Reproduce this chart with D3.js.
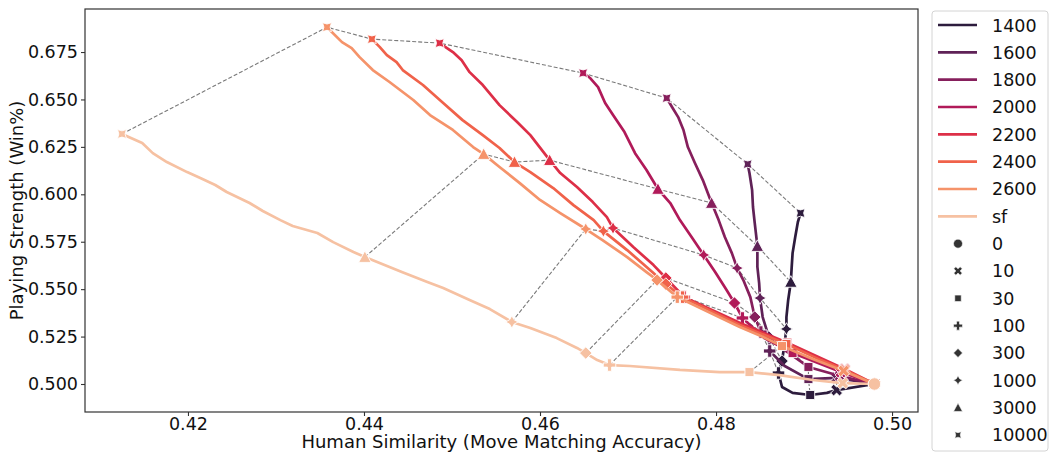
<!DOCTYPE html>
<html>
<head>
<meta charset="utf-8">
<script src="https://cdn.jsdelivr.net/npm/d3@7"></script>
<style>
  body { margin: 0; background: #fff; overflow: hidden; }
  svg { display: block; }
  text { font-family: "DejaVu Sans", sans-serif; }
</style>
</head>
<body>
<div id="chart"></div>
<script>
// ratings (hue) and their colours
const ratings = ["1400", "1600", "1800", "2000", "2200", "2400", "2600", "sf"];
const colors = ["#2d1c3d", "#5f2257", "#861f5c", "#b11a59", "#dd2f47", "#f0624a", "#f5936a", "#f6c1a2"];

// node budgets (style) and their marker shapes
const nodeLevels = [0, 10, 30, 100, 300, 1000, 3000, 10000];
const nodeShapes = ["circle", "xfill", "square", "plus", "diamond", "star", "triangle", "starx"];

const xTicks = [0.42, 0.44, 0.46, 0.48, 0.50];
const yTicks = [0.500, 0.525, 0.550, 0.575, 0.600, 0.625, 0.650, 0.675];

// [similarity, win%, node budget when a marker sits there]
const s1400 = [[0.4896,0.5901,10000],[0.4893,0.5854],[0.4890,0.5775],[0.4887,0.5690],[0.4886,0.5617],
  [0.4885,0.5538,3000],[0.4882,0.5443],[0.4880,0.5353],[0.4880,0.5290,1000],[0.4878,0.5216],
  [0.4875,0.5121,300],[0.4871,0.5058,100],[0.4875,0.4984],[0.4887,0.4953],[0.4907,0.4942,30],
  [0.4926,0.4953],[0.4937,0.4968,10],[0.4980,0.5000,0]];
const s1600 = [[0.4836,0.6159,10000],[0.4838,0.6112],[0.4841,0.6022],[0.4842,0.5933],[0.4844,0.5848],
  [0.4847,0.5727,3000],[0.4847,0.5617],[0.4849,0.5532],[0.4850,0.5453,1000],[0.4853,0.5353],
  [0.4860,0.5248,300],[0.4861,0.5174,100],[0.4878,0.5095],[0.4905,0.5026,30],[0.4937,0.5032,10],
  [0.4980,0.5000,0]];
const s1800 = [[0.4744,0.6507,10000],[0.4750,0.6460],[0.4757,0.6407],[0.4763,0.6339],[0.4768,0.6249],
  [0.4776,0.6165],[0.4785,0.6075],[0.4795,0.5954,3000],[0.4803,0.5864],[0.4810,0.5775],[0.4818,0.5690],
  [0.4824,0.5611,1000],[0.4831,0.5548],[0.4839,0.5458],[0.4844,0.5353,300],[0.4851,0.5274,100],
  [0.4878,0.5179],[0.4905,0.5090,30],[0.4941,0.5042,10],[0.4980,0.5000,0]];
const s2000 = [[0.4649,0.6639,10000],[0.4657,0.6613],[0.4666,0.6565],[0.4674,0.6481],[0.4683,0.6418],
  [0.4696,0.6328],[0.4708,0.6217],[0.4721,0.6128],[0.4734,0.6028,3000],[0.4748,0.5954],[0.4759,0.5864],
  [0.4773,0.5770],[0.4786,0.5680,1000],[0.4799,0.5590],[0.4812,0.5495],[0.4821,0.5427,300],
  [0.4830,0.5348,100],[0.4855,0.5242],[0.4887,0.5163,30],[0.4942,0.5063,10],[0.4980,0.5000,0]];
const s2200 = [[0.4486,0.6797,10000],[0.4501,0.6750],[0.4511,0.6707],[0.4520,0.6644],[0.4535,0.6576],
  [0.4554,0.6470],[0.4574,0.6381],[0.4589,0.6312],[0.4611,0.6180,3000],[0.4623,0.6112],[0.4642,0.6038],
  [0.4660,0.5959],[0.4676,0.5880],[0.4683,0.5822,1000],[0.4706,0.5722],[0.4729,0.5627],
  [0.4743,0.5559,300],[0.4764,0.5458,100],[0.4828,0.5320],[0.4881,0.5218,30],[0.4946,0.5079,10],
  [0.4980,0.5000,0]];
const s2400 = [[0.4409,0.6818,10000],[0.4418,0.6776],[0.4426,0.6734],[0.4437,0.6697],[0.4444,0.6655],
  [0.4467,0.6576],[0.4490,0.6481],[0.4512,0.6391],[0.4535,0.6312],[0.4554,0.6244],[0.4571,0.6170,3000],
  [0.4589,0.6117],[0.4615,0.6033],[0.4638,0.5943],[0.4661,0.5864],[0.4672,0.5806,1000],[0.4699,0.5706],
  [0.4725,0.5601],[0.4743,0.5527,300],[0.4762,0.5458,100],[0.4827,0.5311],[0.4880,0.5211,30],
  [0.4919,0.5126],[0.4946,0.5074,10],[0.4980,0.5000,0]];
const s2600 = [[0.4358,0.6881,10000],[0.4375,0.6802],[0.4386,0.6771],[0.4395,0.6723],[0.4410,0.6655],
  [0.4429,0.6592],[0.4456,0.6497],[0.4475,0.6418],[0.4501,0.6339],[0.4524,0.6249],[0.4536,0.6212,3000],
  [0.4554,0.6144],[0.4577,0.6059],[0.4600,0.5970],[0.4623,0.5901],[0.4652,0.5817,1000],[0.4671,0.5759],
  [0.4699,0.5669],[0.4721,0.5590],[0.4733,0.5548,300],[0.4756,0.5458,100],[0.4827,0.5300],
  [0.4851,0.5253],[0.4875,0.5200,30],[0.4907,0.5137],[0.4945,0.5069,10],[0.4980,0.5000,0]];
const sSf = [[0.4125,0.6318,10000],[0.4148,0.6270],[0.4160,0.6217],[0.4176,0.6170],[0.4199,0.6117],
  [0.4214,0.6086],[0.4231,0.6049],[0.4244,0.6012],[0.4270,0.5954],[0.4285,0.5912],[0.4305,0.5864],
  [0.4319,0.5833],[0.4347,0.5796],[0.4365,0.5748],[0.4388,0.5696],[0.4401,0.5669,3000],[0.4443,0.5590],
  [0.4472,0.5538],[0.4490,0.5506],[0.4520,0.5443],[0.4543,0.5395],[0.4568,0.5327,1000],[0.4589,0.5295],
  [0.4619,0.5242],[0.4642,0.5190],[0.4652,0.5163,300],[0.4665,0.5126],[0.4679,0.5100,100],
  [0.4702,0.5095],[0.4759,0.5074],[0.4804,0.5063],[0.4838,0.5063,30],[0.4872,0.5047],[0.4910,0.5021],
  [0.4944,0.5005,10],[0.4980,0.5000,0]];

const seriesData = [s1400, s1600, s1800, s2000, s2200, s2400, s2600, sSf];

const width = 1052, height = 454;
const margin = { left: 85, right: 134, top: 9, bottom: 42 };
const innerWidth = width - margin.left - margin.right,
      innerHeight = height - margin.top - margin.bottom;

const xScale = d3.scaleLinear().domain([0.4083, 0.50295]).range([0, innerWidth]);
const yScale = d3.scaleLinear().domain([0.48524, 0.69768]).range([innerHeight, 0]);

// marker paths, roughly matching matplotlib's filled markers (ms = full size in px)
function poly(pts) {
    return "M" + pts.map(p => p[0].toFixed(2) + "," + p[1].toFixed(2)).join("L") + "Z";
}
function rotate(pts, deg) {
    const a = deg * Math.PI / 180, c = Math.cos(a), s = Math.sin(a);
    return pts.map(p => [p[0] * c - p[1] * s, p[0] * s + p[1] * c]);
}
function starPts(r) {
    const pts = [];
    for (let i = 0; i < 8; i++) {
        const a = -Math.PI / 2 + i * Math.PI / 4;
        const rr = i % 2 === 0 ? r : r * 0.5;
        pts.push([rr * Math.cos(a), rr * Math.sin(a)]);
    }
    return pts;
}
function plusPts(r) {
    const t = r / 3;
    return [[-t,-r],[t,-r],[t,-t],[r,-t],[r,t],[t,t],[t,r],[-t,r],[-t,t],[-r,t],[-r,-t],[-t,-t]];
}
function markerPath(shape, ms) {
    const r = ms / 2;
    switch (shape) {
        case "circle": return `M${r},0A${r},${r} 0 1,1 ${-r},0A${r},${r} 0 1,1 ${r},0Z`;
        case "square": { const h = r * 0.72; return poly([[-h,-h],[h,-h],[h,h],[-h,h]]); }
        case "diamond": return poly([[0,-r],[r,0],[0,r],[-r,0]]);
        case "triangle": return poly([[0,-r],[r,r*0.85],[-r,r*0.85]]);
        case "plus": return poly(plusPts(r));
        case "xfill": return poly(rotate(plusPts(r), 45));
        case "star": return poly(starPts(r));
        case "starx": return poly(rotate(starPts(r), 45));
    }
}

const svg = d3.select("#chart").append("svg")
    .attr("width", width)
    .attr("height", height);

const g = svg.append("g")
    .attr("transform", "translate(" + margin.left + "," + margin.top + ")");

// dashed connectors between equal node budgets, sf -> 1400
const dashed = g.append("g");
nodeLevels.slice(1).forEach(function(n) {
    const pts = [];
    for (let i = seriesData.length - 1; i >= 0; i--) {
        const p = seriesData[i].find(d => d[2] === n);
        if (p) pts.push(p);
    }
    dashed.append("path")
        .attr("d", d3.line().x(d => xScale(d[0])).y(d => yScale(d[1]))(pts))
        .attr("fill", "none")
        .attr("stroke", "#7a7a7a")
        .attr("stroke-width", 1.1)
        .attr("stroke-dasharray", "4,2");
});

const line = d3.line()
    .x(d => xScale(d[0]))
    .y(d => yScale(d[1]));

seriesData.forEach(function(data, i) {
    const sg = g.append("g").attr("class", "series");
    sg.append("path")
        .attr("d", line(data))
        .attr("fill", "none")
        .attr("stroke", colors[i])
        .attr("stroke-width", 2.7)
        .attr("stroke-linejoin", "round")
        .attr("stroke-linecap", "round");

    sg.selectAll(".mk")
        .data(data.filter(d => d[2] !== undefined))
        .enter().append("path")
        .attr("class", "mk")
        .attr("transform", d => "translate(" + xScale(d[0]) + "," + yScale(d[1]) + ")")
        .attr("d", d => markerPath(nodeShapes[nodeLevels.indexOf(d[2])], 12.5))
        .attr("fill", colors[i])
        .attr("stroke", "#fff")
        .attr("stroke-width", 0.9);
});

// axes
const xAxis = g.append("g")
    .attr("transform", "translate(0," + innerHeight + ")")
    .call(d3.axisBottom(xScale).tickValues(xTicks).tickFormat(d3.format(".2f")).tickSize(4).tickPadding(2));
const yAxis = g.append("g")
    .call(d3.axisLeft(yScale).tickValues(yTicks).tickFormat(d3.format(".3f")).tickSize(4).tickPadding(3));

[xAxis, yAxis].forEach(function(ax) {
    ax.select(".domain").remove();
    ax.selectAll(".tick line").attr("stroke", "#333").attr("stroke-width", 1.1);
    ax.selectAll(".tick text")
        .attr("fill", "#111")
        .style("font-size", "17.5px")
        .style("font-family", "'DejaVu Sans', sans-serif");
});

g.append("rect")
    .attr("width", innerWidth)
    .attr("height", innerHeight)
    .attr("fill", "none")
    .attr("stroke", "#333")
    .attr("stroke-width", 1.2);

svg.append("text")
    .attr("x", margin.left + innerWidth / 2)
    .attr("y", 448)
    .attr("text-anchor", "middle")
    .attr("fill", "#111")
    .style("font-size", "18px")
    .text("Human Similarity (Move Matching Accuracy)");

svg.append("text")
    .attr("transform", "translate(23," + (margin.top + innerHeight / 2) + ") rotate(-90)")
    .attr("text-anchor", "middle")
    .attr("fill", "#111")
    .style("font-size", "18px")
    .text("Playing Strength (Win%)");

// legend
const legend = svg.append("g").attr("transform", "translate(932,11)");
legend.append("rect")
    .attr("width", 116)
    .attr("height", 440)
    .attr("rx", 3)
    .attr("fill", "#fff")
    .attr("stroke", "#d4d4d4")
    .attr("stroke-width", 1);

const rowH = 27.33;
ratings.forEach(function(d, i) {
    const row = legend.append("g").attr("transform", "translate(0," + (14 + i * rowH) + ")");
    row.append("line")
        .attr("x1", 6).attr("x2", 45)
        .attr("stroke", colors[i])
        .attr("stroke-width", 2.7);
    row.append("text")
        .attr("x", 60).attr("y", 6.5)
        .attr("fill", "#111")
        .style("font-size", "17.5px")
        .text(d);
});
nodeLevels.forEach(function(d, i) {
    const row = legend.append("g").attr("transform", "translate(0," + (14 + (i + 8) * rowH) + ")");
    row.append("path")
        .attr("transform", "translate(26,0)")
        .attr("d", markerPath(nodeShapes[i], 9))
        .attr("fill", "#333")
        .attr("stroke", "#fff")
        .attr("stroke-width", 0.6);
    row.append("text")
        .attr("x", 60).attr("y", 6.5)
        .attr("fill", "#111")
        .style("font-size", "17.5px")
        .text(d);
});
</script>
</body>
</html>
